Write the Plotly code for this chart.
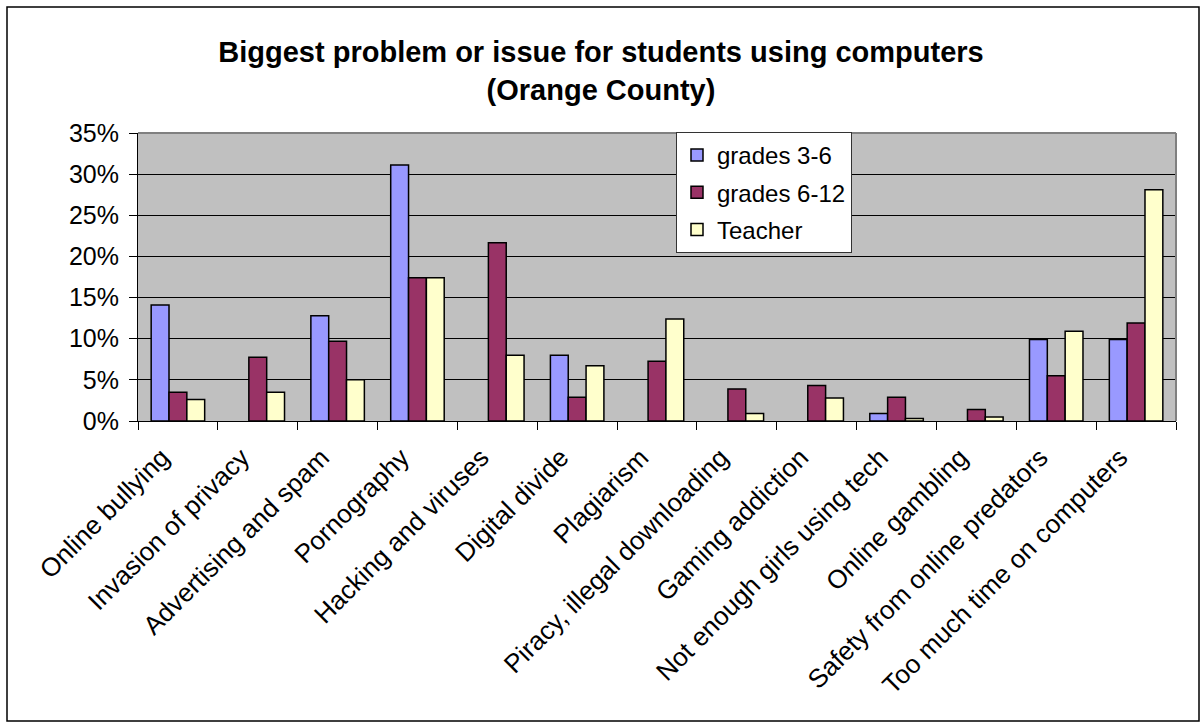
import plotly.graph_objects as go

categories = ["Online bullying", "Invasion of privacy", "Advertising and spam", "Pornography",
              "Hacking and viruses", "Digital divide", "Plagiarism", "Piracy, illegal downloading",
              "Gaming addiction", "Not enough girls using tech", "Online gambling",
              "Safety from online predators", "Too much time on computers"]
grades_3_6 = [0.141, None, 0.128, 0.311, None, 0.080, None, None, None, 0.009, None, 0.099, 0.099]
grades_6_12 = [0.035, 0.0775, 0.097, 0.174, 0.2165, 0.029, 0.0725, 0.039, 0.043, 0.029, 0.014, 0.055, 0.119]
teacher = [0.026, 0.035, 0.050, 0.174, 0.080, 0.067, 0.124, 0.009, 0.028, 0.003, 0.005, 0.109, 0.281]
series_names = ["grades 3-6", "grades 6-12", "Teacher"]
y_ticks = [0, 0.05, 0.10, 0.15, 0.20, 0.25, 0.30, 0.35]
y_tick_labels = ["0%", "5%", "10%", "15%", "20%", "25%", "30%", "35%"]

colors = ["#9999FF", "#993366", "#FFFFCC"]
font = "Liberation Sans, Arial, sans-serif"

fig = go.Figure()
for name, vals, col in zip(series_names, [grades_3_6, grades_6_12, teacher], colors):
    fig.add_trace(go.Bar(x=categories, y=vals, name=name, legendgroup=name,
                         marker=dict(color=col, line=dict(color="black", width=1.5))))

L, R, T, B = 138, 26, 133, 302
W, H = 1202, 723
pw, ph = W - L - R, H - T - B

def px_x(x):
    return (x - L) / pw

def px_y(y):
    return (H - B - y) / ph

fig.update_layout(
    width=W, height=H,
    margin=dict(l=L, r=R, t=T, b=B),
    paper_bgcolor="white", plot_bgcolor="#C0C0C0",
    barmode="group", bargap=0.33, bargroupgap=0,
    font=dict(family=font, size=24, color="black"),
    title=dict(text="<b>Biggest problem or issue for students using computers<br>(Orange County)</b>",
               x=0.5, xref="container", xanchor="center", y=1 - 62 / H, yanchor="middle",
               font=dict(family=font, size=29, color="black")),
    legend=dict(x=px_x(676), y=px_y(132), xanchor="left", yanchor="top",
                bgcolor="white", bordercolor="#333333", borderwidth=1,
                traceorder="grouped", tracegroupgap=3,
                font=dict(family=font, size=24)),
    showlegend=True,
)
fig.update_xaxes(tickangle=-45, tickson="boundaries", ticks="outside", ticklen=8,
                 tickcolor="black", showline=True, linecolor="black", linewidth=1,
                 tickfont=dict(family=font, size=26), mirror=False,
                 ticklabelstandoff=10, ticklabelshift=-16)
fig.update_yaxes(range=[0, 0.35], tickvals=y_ticks, ticktext=y_tick_labels,
                 ticks="outside", ticklen=8, tickcolor="black", showgrid=True,
                 gridcolor="black", gridwidth=1, showline=True, linecolor="black",
                 linewidth=1, tickfont=dict(family=font, size=25), zeroline=False,
                 ticklabelstandoff=5)
fig.add_shape(type="line", xref="paper", yref="paper", x0=1, x1=1,
              y0=0, y1=1, line=dict(color="#808080", width=2))
fig.add_shape(type="line", xref="paper", yref="paper", x0=0, x1=1, y0=1, y1=1,
              line=dict(color="#808080", width=2))
fig.add_shape(type="rect", xref="paper", yref="paper",
              x0=px_x(7), x1=px_x(1199), y0=px_y(721), y1=px_y(7),
              line=dict(color="black", width=1.5), layer="below")
fig.write_html("out.html", config={"displayModeBar": False},
               post_script="document.body.style.margin='0';")
